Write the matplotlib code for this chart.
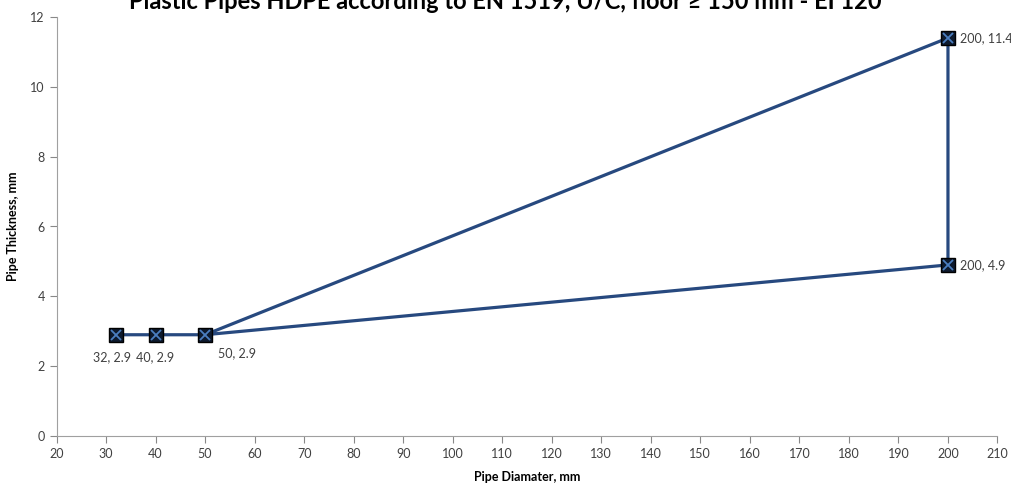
import matplotlib
matplotlib.use("Agg")
import matplotlib.pyplot as plt

diam = [32, 40, 50, 200, 200, 50]
thick = [2.9, 2.9, 2.9, 11.4, 4.9, 2.9]
labels = ["32, 2.9", "40, 2.9", "50, 2.9", "200, 11.4", "200, 4.9"]
label_pts = [(32, 2.9), (40, 2.9), (50, 2.9), (200, 11.4), (200, 4.9)]
xticks = list(range(20, 211, 10))
yticks = list(range(0, 13, 2))

plt.rcParams['font.family'] = ['Lato', 'DejaVu Sans']
fig = plt.figure(figsize=(10.11, 4.86), dpi=100)
ax = fig.add_axes([56.5/1011, 50/486, (997.5-56.5)/1011, (436-17)/486])

line_c = '#27497F'
ax.plot(diam, thick, color=line_c, lw=2.3, zorder=2)
px = [p[0] for p in label_pts]
py = [p[1] for p in label_pts]
ax.plot(px, py, ls='none', marker='s', ms=9.5, mfc='#0D1A2E', mec='black', mew=1, zorder=3)
ax.plot(px, py, ls='none', marker='x', ms=7.5, mec='#4A7EC0', mew=1.3, zorder=4)

offsets = [(-3, -16, 'center'), (0, -16, 'center'), (9, -13, 'left'), (9, 0, 'left'), (9, 0, 'left')]
for (x, y), t, (dx, dy, ha) in zip(label_pts, labels, offsets):
    ax.annotate(t, (x, y), xytext=(dx, dy), textcoords='offset points', ha=ha, va='center',
                fontsize=9, color='#404040', clip_on=False)

ax.set_xlim(20, 210)
ax.set_ylim(0, 12)
ax.set_xticks(xticks)
ax.set_yticks(yticks)
ax.tick_params(axis='both', colors='#888888', labelcolor='#404040', labelsize=9, length=5, direction='out')
for s in ['top', 'right']:
    ax.spines[s].set_visible(False)
for s in ['left', 'bottom']:
    ax.spines[s].set_color('#A0A0A0')
ax.set_xlabel('Pipe Diamater, mm', fontsize=9, fontweight='bold', color='black', labelpad=8)
ax.set_ylabel('Pipe Thickness, mm', fontsize=9, fontweight='bold', color='black', labelpad=8)
fig.text(0.5, 0.997, 'Plastic Pipes HDPE according to EN 1519, U/C, floor \u2265 150 mm - EI 120',
         ha='center', va='center', fontsize=17, fontweight='bold', color='black')
fig.savefig('out.png', dpi=100)
